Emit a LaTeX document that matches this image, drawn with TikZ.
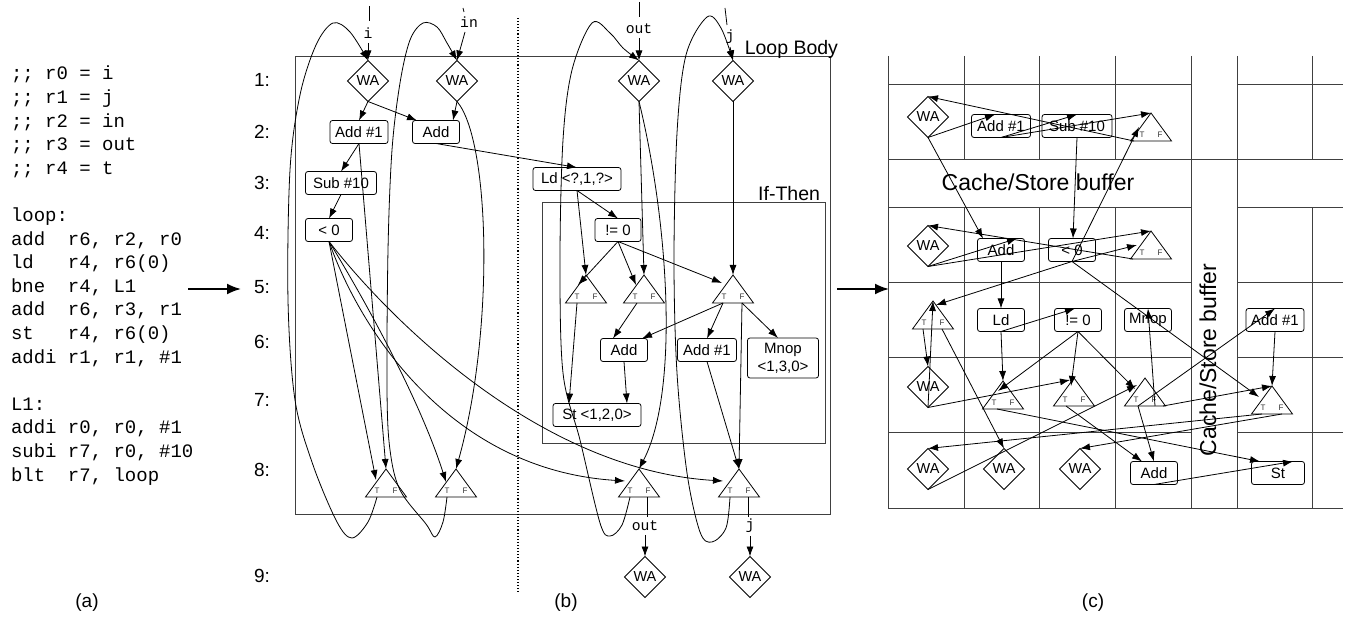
\documentclass[tikz,border=0pt]{standalone}
\usepackage{fontspec}
\setmainfont{Liberation Sans}
\setmonofont{Liberation Mono}
\usetikzlibrary{shapes.geometric,arrows.meta}
\tikzset{
  every node/.style={inner sep=0pt, outer sep=0pt},
  ln/.style={line width=0.8pt},
  arr/.style={line width=0.8pt, -{Latex[length=10pt,width=7pt]}},
  bigarr/.style={line width=2pt, -{Latex[length=14pt,width=11pt]}},
  bx/.style={draw, line width=0.8pt, rounded corners=2.5pt, minimum height=23pt, font=\fontsize{15}{18}\selectfont},
  wa/.style={draw, line width=0.8pt, diamond, aspect=1, minimum width=41pt, minimum height=41pt, font=\fontsize{14.5}{16}\selectfont},
  trib/.style={minimum width=41pt, minimum height=28pt},
  tf/.style={font=\fontsize{8}{9}\selectfont, text=black!80},
  mono/.style={font=\ttfamily\fontsize{14.7}{17}\selectfont},
  code/.style={font=\ttfamily\fontsize{19}{22}\selectfont, anchor=base west},
  rowl/.style={font=\fontsize{19}{22}\selectfont},
  capt/.style={font=\fontsize{19}{22}\selectfont},
  ttl/.style={font=\fontsize{19.5}{22}\selectfont, anchor=base east},
  buf/.style={font=\fontsize{23}{26}\selectfont},
  frame/.style={draw=black!75, line width=1pt},
}
\newcommand\mytri[3]{%
  \node[trib] (#1) at (#2,#3) {};
  \draw[ln] (#1.south west) -- (#1.north) -- (#1.south east) -- cycle;
  \node[tf] (#1T) at ([shift={(-9,-6)}]#1.south) {T};
  \node[tf] (#1F) at ([shift={(9,-6)}]#1.south) {F};
}
\begin{document}
\begin{tikzpicture}[x=1pt,y=-1pt]
\useasboundingbox (0,0) rectangle (1353,617);

% ---------------- (a) code ----------------
\node[code] (L0)  at (11,80)    {;; r0 = i};
\node[code] (L1)  at (11,103.6) {;; r1 = j};
\node[code] (L2)  at (11,127.2) {;; r2 = in};
\node[code] (L3)  at (11,150.8) {;; r3 = out};
\node[code] (L4)  at (11,174.4) {;; r4 = t};
\node[code] (L6)  at (11,221.6) {loop:};
\node[code] (L7)  at (11,245.2) {add~~r6, r2, r0};
\node[code] (L8)  at (11,268.8) {ld~~~r4, r6(0)};
\node[code] (L9)  at (11,292.4) {bne~~r4, L1};
\node[code] (L10) at (11,316)   {add~~r6, r3, r1};
\node[code] (L11) at (11,339.6) {st~~~r4, r6(0)};
\node[code] (L12) at (11,363.2) {addi r1, r1, \#1};
\node[code] (L14) at (11,410.4) {L1:};
\node[code] (L15) at (11,434)   {addi r0, r0, \#1};
\node[code] (L16) at (11,457.6) {subi r7, r0, \#10};
\node[code] (L17) at (11,481.2) {blt~~r7, loop};

\node[capt] (capa) at (87,603) {(a)};
\node[capt] (capb) at (566,603) {(b)};
\node[capt] (capc) at (1093,603) {(c)};

\coordinate (aS) at (188,289); \coordinate (aE) at (241,289);
\draw[bigarr] (aS) -- (aE);
\coordinate (bS) at (837,289); \coordinate (bE) at (889,289);
\draw[bigarr] (bS) -- (bE);

% ---------------- (b) ----------------
\foreach \n/\y in {1/80,2/132,3/183,4/233,5/287,6/342,7/400,8/470,9/576}
  \node[rowl] (row\n) at (262,\y) {\n:};

\draw[frame] (295,57) rectangle (830,515);
\node[ttl] (lbody) at (838,55) {Loop Body};
\draw[frame] (542,203) rectangle (825,444);
\node[ttl] (lif) at (820,201) {If-Then};
\draw[dotted, line width=1.1pt] (518,18) -- (518,592);

\node[wa] (WAi) at (368,81) {WA};
\node[wa] (WAin) at (457,81) {WA};
\node[wa] (WAout) at (639,81) {WA};
\node[wa] (WAj) at (733,81) {WA};
\node[bx, minimum width=58pt] (Add1) at (359,132) {Add \#1};
\node[bx, minimum width=47pt] (Addb) at (436,132) {Add};
\node[bx, minimum width=71pt] (Sub10) at (341,183) {Sub \#10};
\node[bx, minimum width=88pt] (Ld) at (577,179) {Ld <?,1,?>};
\node[bx, minimum width=47pt] (Lt0) at (329,230) {< 0};
\node[bx, minimum width=46pt] (Ne0) at (618,230) {!= 0};
\mytri{t1}{586}{289}
\mytri{t2}{644}{289}
\mytri{t3}{733}{289}
\node[bx, minimum width=47pt] (Add6) at (624,350) {Add};
\node[bx, minimum width=59pt] (Add16) at (707,350) {Add \#1};
\node[bx, minimum width=71pt, minimum height=40pt, align=center] (Mnop) at (783,358) {Mnop\\<1,3,0>};
\node[bx, minimum width=88pt] (St) at (597,415) {St <1,2,0>};
\mytri{tA}{386}{483}
\mytri{tB}{456}{483}
\mytri{tC}{639}{483}
\mytri{tD}{739}{483}
\node[mono] (outlbl) at (645,526) {out};
\node[mono] (jlbl) at (750,526) {j};
\node[wa] (WAo9) at (645,577) {WA};
\node[wa] (WAj9) at (750,577) {WA};

% inputs at top
\node[mono] (ilbl) at (368,33) {i};
\node[mono] (inlbl) at (469,22) {in};
\node[mono] (outtop) at (639,29) {out};
\node[mono] (jtop) at (730,37) {j};
\coordinate (iT) at (369,6);   \draw[ln] (iT) -- ([shift={(1,-12)}]ilbl.center);
\coordinate (inT) at (463,8);  \draw[ln] (inT) -- ([shift={(-5,-10)}]inlbl.center);
\coordinate (oT) at (639,2);   \draw[ln] (oT) -- ([shift={(0,-12)}]outtop.center);
\coordinate (jT) at (725,8);   \draw[ln] (jT) -- ([shift={(-3,-12)}]jtop.center);
\draw[arr] ([shift={(0,10)}]ilbl.center) -- (WAi.north);
\draw[arr] ([shift={(-4,10)}]inlbl.center) -- (WAin.north);
\draw[arr] ([shift={(0,9)}]outtop.center) -- (WAout.north);
\draw[arr] ([shift={(0,10)}]jtop.center) -- (WAj.north);

% edges
\draw[arr] (WAi.south) -- (Add1.north);
\draw[arr] (WAi.south) -- ([shift={(-19,0)}]Addb.north);
\draw[arr] (WAin.south) -- ([shift={(17,0)}]Addb.north);
\draw[arr] (Add1.south) -- (Sub10.north);
\draw[arr] (Sub10.south) -- (Lt0.north);
\draw[arr] (Add1.south) -- (tA.north);
\draw[arr] (Addb.south) -- (Ld.north);
\draw[arr] (Ld.south) -- (Ne0.north);
\draw[arr] (Ld.south) -- (t1.north);
\draw[arr] (Ne0.south) -- ([shift={(-8,-4)}]t1.center);
\draw[arr] (Ne0.south) -- ([shift={(-8,-4)}]t2.center);
\draw[arr] (Ne0.south) -- ([shift={(-11,-6)}]t3.center);
\draw[arr] (WAout.south) -- (t2.north);
\draw[arr] (WAout.south) .. controls (668,220) and (680,390) .. (tC.north);
\draw[arr] (WAj.south) -- (t3.north);
\draw[arr] ([shift={(-7,0)}]t2.south) -- ([shift={(-11,0)}]Add6.north);
\draw[arr] ([shift={(-10,0)}]t3.south) -- ([shift={(18,0)}]Add6.north);
\draw[arr] ([shift={(-10,0)}]t3.south) -- (Add16.north);
\draw[arr] ([shift={(9,0)}]t3.south) -- ([shift={(-5,0)}]Mnop.north);
\draw[arr] ([shift={(9,0)}]t3.south) -- (tD.north);
\draw[arr] (Add16.south) -- (tD.north);
\draw[arr] ([shift={(-9,0)}]t1.south) -- ([shift={(-28,0)}]St.north);
\draw[arr] (Add6.south) -- ([shift={(30,0)}]St.north);
\draw[arr] (Lt0.south) -- ([shift={(-10,-3)}]tA.center);
\draw[arr] (Lt0.south) .. controls (365,300) and (420,400) .. ([shift={(-10,-1)}]tB.center);
\draw[arr] (Lt0.south) .. controls (360,330) and (450,470) .. ([shift={(-14,-2)}]tC.center);
\draw[arr] (Lt0.south) .. controls (390,320) and (540,470) .. ([shift={(-16,-2)}]tD.center);
\draw[arr] (WAin.south) .. controls (490,140) and (495,330) .. (tB.north);

% loop-back curves
\draw[arr] plot[smooth, tension=0.55] coordinates {([shift={(-9,0)}]tA.south) (368,522) (352,538) (337,522) (313,465) (295,400) (288,300) (290,170) (300,95) (316,45) (333,23) (350,32) (WAi.north)};
\draw[arr] plot[smooth, tension=0.55] coordinates {([shift={(-9,0)}]tB.south) (443,522) (435,537) (426,524) (400,490) (390,450) (387,390) (388,250) (392,150) (400,83) (410,40) (423,23) (437,27) (447,43) (WAin.north)};
\draw[arr] plot[smooth, tension=0.55] coordinates {([shift={(-9,0)}]tC.south) (622,525) (610,536) (600,523) (580,440) (563,373) (560,260) (563,140) (572,70) (592,23) (610,33) (623,48) (WAout.north)};
\draw[arr] plot[smooth, tension=0.55] coordinates {([shift={(-9,0)}]tD.south) (726,528) (712,542) (700,532) (687,473) (677,373) (674,260) (677,133) (686,55) (707,17) (721,28) (WAj.north)};

\draw[ln] ([shift={(8,0)}]tC.south) -- ([shift={(2,-9)}]outlbl.center);
\draw[arr] ([shift={(0,9)}]outlbl.center) -- (WAo9.north);
\draw[ln] ([shift={(9,0)}]tD.south) -- ([shift={(-2,-9)}]jlbl.center);
\draw[arr] ([shift={(0,10)}]jlbl.center) -- (WAj9.north);

% ---------------- (c) grid ----------------
\draw[frame] (888,56) -- (888,509) -- (1343,509);
\foreach \x in {964,1039,1115,1312} {\draw[frame] (\x,56) -- (\x,160); \draw[frame] (\x,208) -- (\x,509);}
\foreach \x in {1191,1237} {\draw[frame] (\x,56) -- (\x,509);}
\draw[frame] (888,160) -- (1343,160);
\foreach \y in {85,208,283,358,433} {\draw[frame] (888,\y) -- (1191,\y); \draw[frame] (1237,\y) -- (1343,\y);}
\node[buf] (bufh) at (1038,182) {Cache/Store buffer};
\node[buf, rotate=90] (bufv) at (1208,360) {Cache/Store buffer};

\node[wa] (cWAi) at (928,117) {WA};
\node[bx, minimum width=59pt] (cAdd1) at (1001,126) {Add \#1};
\node[bx, minimum width=70pt] (cSub10) at (1077,126) {Sub \#10};
\mytri{ctA}{1151}{127}
\node[wa] (cWAin) at (928,246) {WA};
\node[bx, minimum width=47pt] (cAddb) at (1001,250) {Add};
\node[bx, minimum width=47pt] (cLt0) at (1072,250) {< 0};
\mytri{ctB}{1151}{245}
\mytri{ctC}{933}{315}
\node[bx, minimum width=47pt] (cLd) at (1001,320) {Ld};
\node[bx, minimum width=47pt] (cNe0) at (1078,320) {!= 0};
\node[bx, minimum width=47pt] (cMnop) at (1148,320) {Mnop};
\node[bx, minimum width=58pt] (cAdd16) at (1275,320) {Add \#1};
\node[wa] (cWAout) at (928,387) {WA};
\mytri{ct1}{1003}{395}
\mytri{ct2}{1074}{392}
\mytri{ct3}{1145}{392}
\mytri{ctD}{1272}{400}
\node[wa] (cWAj) at (928,469) {WA};
\node[wa] (cWAo9) at (1004,469) {WA};
\node[wa] (cWAj9) at (1080,469) {WA};
\node[bx, minimum width=47pt] (cAdd6) at (1154,473) {Add};
\node[bx, minimum width=53pt] (cSt) at (1278,473) {St};

\draw[arr] (cWAi.south) -- ([shift={(-6,0)}]cAdd1.north);
\draw[arr] (cWAi.south) -- ([shift={(-18,0)}]cAddb.north);
\draw[arr] (cAdd1.south) -- (cSub10.north);
\draw[arr] (cAdd1.south) -- (ctA.north);
\draw[arr] (cSub10.south) -- ([shift={(1,0)}]cLt0.north);
\draw[arr] ([shift={(-17,0)}]ctA.south) -- (cWAi.north);
\draw[arr] (cWAin.south) -- ([shift={(16,0)}]cAddb.north);
\draw[arr] (cWAin.south) -- (ctB.north);
\draw[arr] ([shift={(-18,0)}]ctB.south) -- (cWAin.north);
\draw[arr] (cLt0.south) -- ([shift={(-12,0)}]ctA.center);
\draw[arr] (cLt0.south) -- ([shift={(-14,0)}]ctB.center);
\draw[arr] (cLt0.south) -- ([shift={(3,-10)}]ctC.center);
\draw[arr] (cLt0.south) -- ([shift={(-13,-3)}]ctD.center);
\draw[arr] (cAddb.south) -- (cLd.north);
\draw[arr] (cLd.south) -- ([shift={(-3,0)}]cNe0.north);
\draw[arr] (cLd.south) -- (ct1.north);
\draw[arr] (cNe0.south) -- ([shift={(-5,-4)}]ct1.center);
\draw[arr] (cNe0.south) -- ([shift={(-3,-6)}]ct2.center);
\draw[arr] (cNe0.south) -- ([shift={(-10,-3)}]ct3.center);
\draw[arr] (cWAout.south) -- (ctC.north);
\draw[arr] (cWAout.south) -- ([shift={(-4,2)}]ct2.north);
\draw[arr] ([shift={(-10,0)}]ctC.south) -- (cWAout.north);
\draw[arr] ([shift={(9,0)}]ctC.south) -- (cWAo9.north);
\draw[arr] (cWAj.south) -- ([shift={(-8,-7)}]ct3.center);
\draw[arr] ([shift={(-10,0)}]ctD.south) -- (cWAj.north);
\draw[arr] ([shift={(10,0)}]ctD.south) -- (cWAj9.north);
\draw[arr] ([shift={(10,0)}]ct3.south) -- (cMnop.north);
\draw[arr] ([shift={(-7,0)}]ct3.south) -- (cAdd6.north);
\draw[arr] ([shift={(-7,0)}]ct3.south) -- (cAdd16.north);
\draw[arr] ([shift={(18,0)}]ct3.south) -- (ctD.north);
\draw[arr] (cAdd16.south) -- (ctD.north);
\draw[arr] ([shift={(-8,0)}]ct2.south) -- ([shift={(-12,0)}]cAdd6.north);
\draw[arr] ([shift={(-6,0)}]ct1.south) -- ([shift={(-18,0)}]cSt.north);
\draw[arr] (cAdd6.south) -- ([shift={(15,0)}]cSt.north);
\end{tikzpicture}
\end{document}
